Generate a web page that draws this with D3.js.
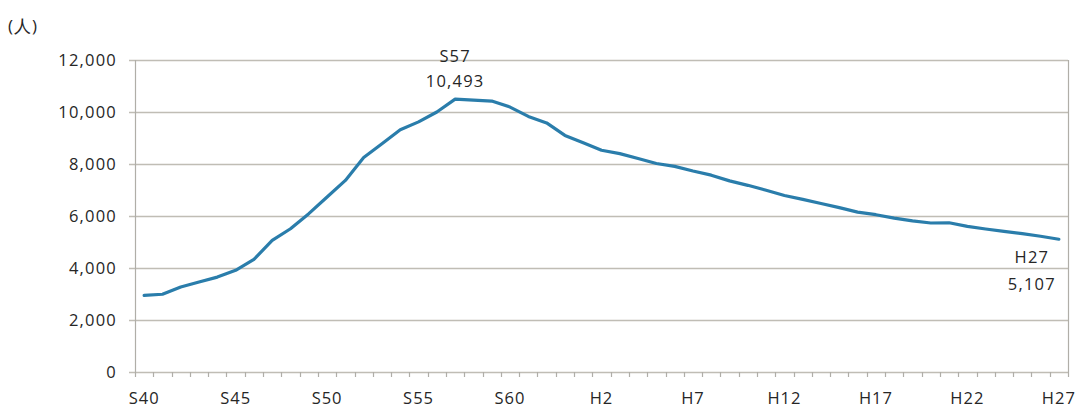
<!DOCTYPE html>
<html>
<head>
<meta charset="utf-8">
<script src="https://cdn.jsdelivr.net/npm/d3@7"></script>
<style>
  html, body { margin: 0; padding: 0; background: #ffffff; }
  svg { display: block; }
  text { font-family: "Open Sans", "Noto Sans", sans-serif; fill: #262626; }
</style>
</head>
<body>
<svg id="chart" width="1078" height="409"></svg>
<script>
// Fiscal years S40 (1965) through H27 (2015)
const years = [
  "S40","S41","S42","S43","S44","S45","S46","S47","S48","S49",
  "S50","S51","S52","S53","S54","S55","S56","S57","S58","S59",
  "S60","S61","S62","S63","H1","H2","H3","H4","H5","H6",
  "H7","H8","H9","H10","H11","H12","H13","H14","H15","H16",
  "H17","H18","H19","H20","H21","H22","H23","H24","H25","H26","H27"
];

// Number of people per year
const people = [
  2950, 2990, 3270, 3460, 3650, 3910, 4330, 5060, 5510, 6090,
  6730, 7370, 8250, 8780, 9320, 9620, 10000, 10493, 10460, 10420,
  10190, 9830, 9580, 9100, 8820, 8530, 8400, 8210, 8020, 7910,
  7730, 7570, 7350, 7180, 6990, 6790, 6640, 6480, 6320, 6150,
  6050, 5920, 5810, 5730, 5740, 5600, 5500, 5410, 5320, 5220, 5107
];

const xTickLabels = ["S40","S45","S50","S55","S60","H2","H7","H12","H17","H22","H27"];
const yTicks = [0, 2000, 4000, 6000, 8000, 10000, 12000];

// Highlighted points with their labels
const callouts = [
  { year: "S57", lines: ["S57", "10,493"] },
  { year: "H27", lines: ["H27", "5,107"] }
];

const svg = d3.select("#chart");
const m = { left: 135, right: 1068, top: 60, bottom: 372 };

const x = d3.scaleBand().domain(years).range([m.left, m.right]).paddingInner(0).paddingOuter(0);
const y = d3.scaleLinear().domain([0, 12000]).range([m.bottom, m.top]);
const cx = d => x(d) + x.bandwidth() / 2;

const gridColor = "#c0bdb5";
const axisColor = "#b0aea8";

// Horizontal gridlines with short left ticks
svg.append("g")
  .selectAll("line")
  .data(yTicks)
  .join("line")
  .attr("x1", m.left - 6)
  .attr("x2", m.right)
  .attr("y1", d => Math.round(y(d)) + 0.5)
  .attr("y2", d => Math.round(y(d)) + 0.5)
  .attr("stroke", gridColor)
  .attr("stroke-width", 1.3);

// Left axis and right frame
svg.append("line")
  .attr("x1", m.left + 0.5).attr("x2", m.left + 0.5)
  .attr("y1", m.top).attr("y2", m.bottom)
  .attr("stroke", axisColor).attr("stroke-width", 1.2);
svg.append("line")
  .attr("x1", m.right + 0.5).attr("x2", m.right + 0.5)
  .attr("y1", m.top).attr("y2", m.bottom)
  .attr("stroke", axisColor).attr("stroke-width", 1.2);

// Y axis labels
const yAxis = d3.axisLeft(y).tickValues(yTicks).tickFormat(d3.format(",")).tickSize(0).tickPadding(18);
const gy = svg.append("g").attr("transform", `translate(${m.left},0)`).call(yAxis);
gy.select(".domain").remove();
gy.selectAll("text")
  .style("font-size", "16.5px")
  .style("letter-spacing", "1.2px")
  .attr("fill", "#262626");

// X tick marks at category boundaries
const boundaries = years.map(d => x(d)).concat([x.range()[1]]);
svg.append("g")
  .selectAll("line")
  .data(boundaries)
  .join("line")
  .attr("x1", d => Math.round(d) + 0.5)
  .attr("x2", d => Math.round(d) + 0.5)
  .attr("y1", m.bottom)
  .attr("y2", m.bottom + 5)
  .attr("stroke", axisColor)
  .attr("stroke-width", 1.2);

// X axis labels
const xAxis = d3.axisBottom(x).tickValues(xTickLabels).tickSize(0).tickPadding(20);
const gx = svg.append("g").attr("transform", `translate(0,${m.bottom})`).call(xAxis);
gx.select(".domain").remove();
gx.selectAll("text")
  .style("font-size", "16.5px")
  .style("letter-spacing", "1px")
  .attr("fill", "#262626");

// Unit label
svg.append("text")
  .attr("x", 8)
  .attr("y", 32)
  .style("font-size", "17px")
  .style("letter-spacing", "1px")
  .text("(人)");

// Data line
const line = d3.line()
  .x((d, i) => cx(years[i]))
  .y(d => y(d));

svg.append("path")
  .datum(people)
  .attr("d", line)
  .attr("fill", "none")
  .attr("stroke", "#2a7dab")
  .attr("stroke-width", 3.2)
  .attr("stroke-linejoin", "round")
  .attr("stroke-linecap", "round");

// Callout labels
const c1 = callouts[0];
const i1 = years.indexOf(c1.year);
const t1 = svg.append("text")
  .attr("text-anchor", "middle")
  .style("font-size", "16.5px")
  .style("letter-spacing", "1.2px");
t1.append("tspan").attr("x", cx(c1.year)).attr("y", y(people[i1]) - 37).text(c1.lines[0]);
t1.append("tspan").attr("x", cx(c1.year)).attr("y", y(people[i1]) - 12).text(c1.lines[1]);

const c2 = callouts[1];
const i2 = years.indexOf(c2.year);
const t2 = svg.append("text")
  .attr("text-anchor", "middle")
  .style("font-size", "16.5px")
  .style("letter-spacing", "1.2px");
t2.append("tspan").attr("x", cx(c2.year) - 27).attr("y", y(people[i2]) + 24).text(c2.lines[0]);
t2.append("tspan").attr("x", cx(c2.year) - 27).attr("y", y(people[i2]) + 51).text(c2.lines[1]);
</script>
</body>
</html>
